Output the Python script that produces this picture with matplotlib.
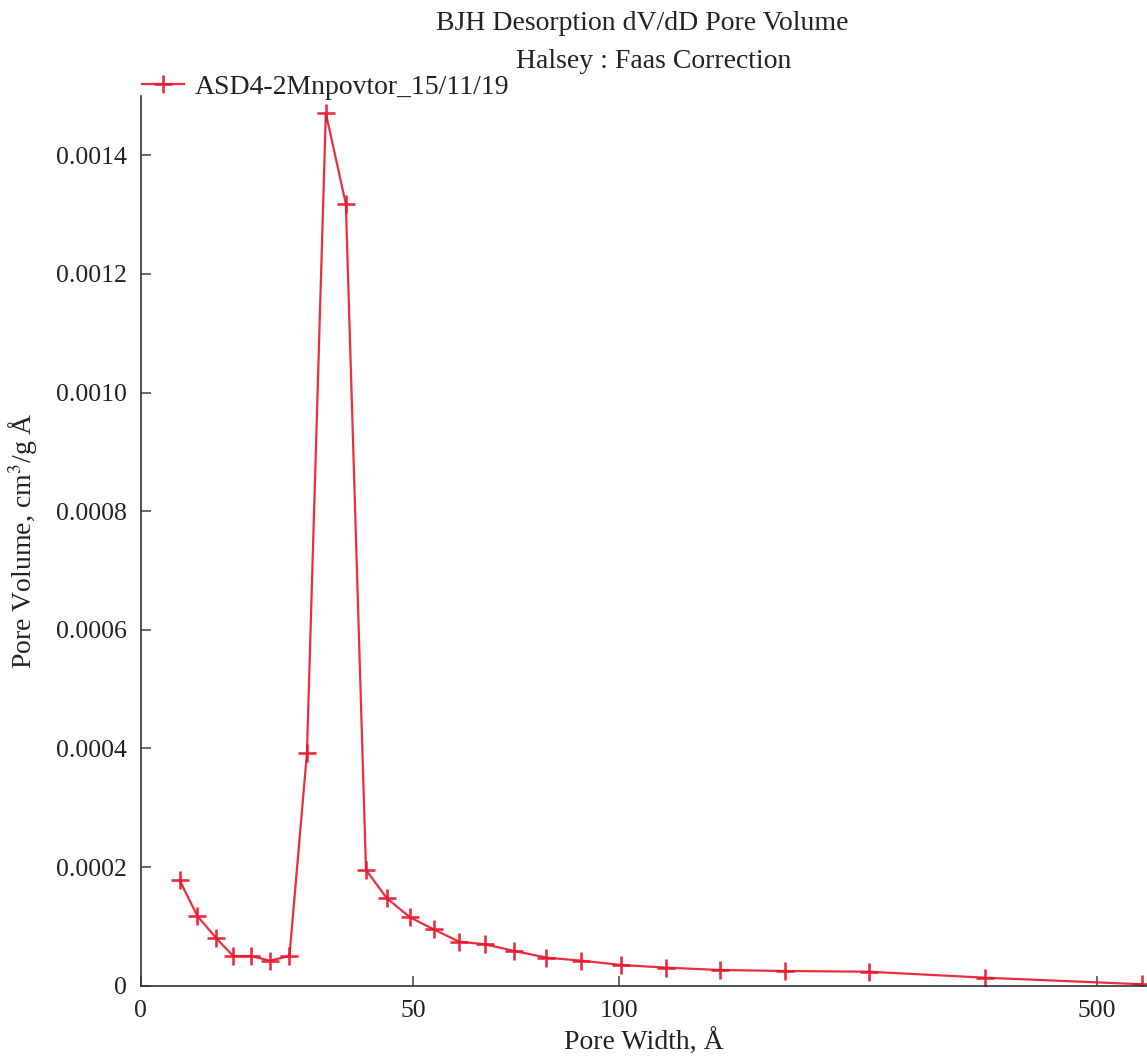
import matplotlib
matplotlib.use('Agg')
import matplotlib.pyplot as plt

# BJH desorption dV/dD data
pore_width = [22.8, 24.2, 25.8, 27.3, 29.0, 30.9, 33.0, 35.0, 37.3, 39.9,
              42.7, 45.8, 49.5, 53.6, 58.4, 63.7, 70.3, 78.4, 88.2, 100.9,
              117.4, 140.5, 174.8, 231.9, 343.4, 581.7]
pore_volume = [0.000178, 0.0001176, 0.0000800, 0.0000501, 0.0000501, 0.0000422,
               0.0000501, 0.000392, 0.001471, 0.001318, 0.0001953, 0.0001475,
               0.0001154, 0.0000952, 0.0000743, 0.0000699, 0.0000586, 0.0000473,
               0.0000422, 0.0000349, 0.0000304, 0.0000265, 0.0000248, 0.0000236,
               0.0000135, 0.0000024]

x_ticks = [20, 50, 100, 500]
x_tick_labels = ['0', '50', '100', '500']
y_ticks = [0, 0.0002, 0.0004, 0.0006, 0.0008, 0.0010, 0.0012, 0.0014]
y_tick_labels = ['0', '0.0002', '0.0004', '0.0006', '0.0008', '0.0010', '0.0012', '0.0014']

plt.rcParams['font.family'] = ['Liberation Serif', 'DejaVu Serif']
plt.rcParams['mathtext.fontset'] = 'stix'
fs_tick = 18.5
fs = 20
W, H = 1147, 1057

fig = plt.figure(figsize=(W / 100, H / 100), dpi=100)
ax = fig.add_axes([140.7 / W, 1 - 985.7 / H, (W - 140.7) / W, (985.7 - 96) / H])

red = '#e8172b'
ax.plot(pore_width, pore_volume, color=red, linewidth=1.6, marker='+',
        markersize=13, markeredgewidth=1.9, alpha=0.9,
        label='ASD4-2Mnpovtor_15/11/19')

ax.set_xscale('log')
ax.set_xlim(20, 592)
ax.set_ylim(0, 0.0015)
ax.set_xticks(x_ticks)
ax.set_xticklabels(x_tick_labels)
ax.minorticks_off()
ax.set_yticks(y_ticks)
ax.set_yticklabels(y_tick_labels)

for s in ['top', 'right']:
    ax.spines[s].set_visible(False)
for s in ['left', 'bottom']:
    ax.spines[s].set_color('#333333')
    ax.spines[s].set_linewidth(1.2)
ax.tick_params(direction='in', length=7, width=1.1, color='#444444',
               labelsize=fs_tick, labelcolor='#222222', pad=10)

ax.set_xlabel('Pore Width, Å', fontsize=fs, color='#222222', labelpad=5)
ax.set_ylabel('Pore Volume, cm$^3$/g Å', fontsize=fs, color='#222222', labelpad=12)

fig.text(642 / W, 1 - 23 / H, 'BJH Desorption dV/dD Pore Volume',
         ha='center', va='center', fontsize=fs, color='#222222')
fig.text(654 / W, 1 - 61 / H, 'Halsey : Faas Correction',
         ha='center', va='center', fontsize=fs, color='#222222')

ax.legend(loc='center left', bbox_to_anchor=(131 / W, 1 - 87 / H),
          bbox_transform=fig.transFigure, frameon=False, fontsize=fs,
          handlelength=1.5, handletextpad=0.4, borderaxespad=0,
          labelcolor='#222222')

fig.savefig('out.png', dpi=100)
